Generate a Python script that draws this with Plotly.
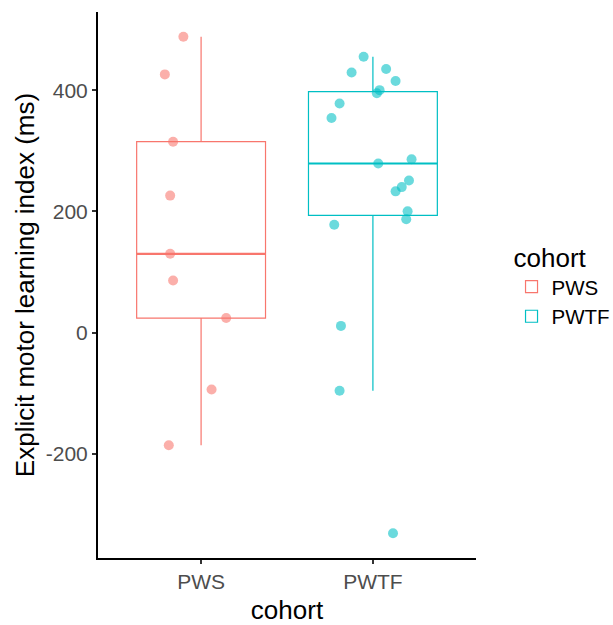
import numpy as np
import plotly.graph_objects as go

# ---- data ----
categories = ["PWS", "PWTF"]
pws_values = [488, 426, 315, 226, 130, 86, 24, -94, -186]
pws_jitter = [-0.103, -0.211, -0.163, -0.180, -0.180, -0.163, 0.146, 0.061, -0.188]
pwtf_values = [455, 429, 435, 415, 400, 395, 378, 354, 286, 279, 251, 240, 233,
               200, 187, 178, 11, -96, -331]
pwtf_jitter = [-0.054, -0.124, 0.077, 0.132, 0.039, 0.023, -0.194, -0.241, 0.225,
               0.031, 0.210, 0.168, 0.132, 0.202, 0.194, -0.225, -0.186, -0.194, 0.117]
y_ticks = [-200, 0, 200, 400]
y_tick_labels = ["-200", "0", "200", "400"]

colors = {"PWS": "#F8766D", "PWTF": "#00BFC4"}
series = {"PWS": (pws_values, pws_jitter), "PWTF": (pwtf_values, pwtf_jitter)}

FONT = "Liberation Sans, Arial, sans-serif"
BOX_W = 0.75

def stats(vals):
    v = np.asarray(vals, dtype=float)
    q1, med, q3 = np.percentile(v, [25, 50, 75])
    iqr = q3 - q1
    lo = v[v >= q1 - 1.5 * iqr].min()
    hi = v[v <= q3 + 1.5 * iqr].max()
    return q1, med, q3, lo, hi

fig = go.Figure()

for i, cat in enumerate(categories, start=1):
    vals, jit = series[cat]
    q1, med, q3, lo, hi = stats(vals)
    fig.add_trace(go.Box(
        x=[i], q1=[q1], median=[med], q3=[q3], lowerfence=[lo], upperfence=[hi],
        name=cat, width=BOX_W, whiskerwidth=0,
        line=dict(color=colors[cat], width=1.2),
        fillcolor="rgba(255,255,255,0)",
        boxpoints=False, showlegend=True, legendgroup=cat,
    ))
    # thicker median line like ggplot
    fig.add_trace(go.Scatter(
        x=[i - BOX_W / 2, i + BOX_W / 2], y=[med, med], mode="lines",
        line=dict(color=colors[cat], width=2.2), showlegend=False,
        hoverinfo="skip", legendgroup=cat,
    ))

for i, cat in enumerate(categories, start=1):
    vals, jit = series[cat]
    fig.add_trace(go.Scatter(
        x=[i + j for j in jit], y=vals, mode="markers",
        marker=dict(color=colors[cat], size=10, opacity=0.58, line=dict(width=0)),
        showlegend=False, legendgroup=cat, name=cat,
    ))

all_vals = pws_values + pwtf_values
vmin, vmax = min(all_vals), max(all_vals)
pad = 0.05 * (vmax - vmin)

fig.update_layout(
    width=613, height=625,
    margin=dict(l=98, r=137, t=12, b=67, autoexpand=False),
    paper_bgcolor="white", plot_bgcolor="white",
    font=dict(family=FONT, color="black"),
    showlegend=True,
    legend=dict(
        title=dict(text="cohort", font=dict(size=26, family=FONT, color="black")),
        font=dict(size=20.5, family=FONT, color="black"),
        x=1.094, xanchor="left", y=0.50, yanchor="middle",
        bgcolor="rgba(0,0,0,0)", tracegroupgap=0, itemwidth=30,
    ),
    xaxis=dict(
        range=[0.4, 2.6], tickmode="array", tickvals=[1, 2], ticktext=categories,
        showgrid=False, zeroline=False, automargin=False,
        showline=True, linecolor="black", linewidth=2,
        ticks="outside", ticklen=4, tickwidth=1.5, tickcolor="#333333",
        tickfont=dict(size=21, color="#4D4D4D", family=FONT),
        title=dict(text="cohort", font=dict(size=26, color="black", family=FONT), standoff=10),
    ),
    yaxis=dict(
        range=[vmin - pad, vmax + pad], tickmode="array", tickvals=y_ticks,
        ticktext=y_tick_labels,
        showgrid=False, zeroline=False, automargin=False,
        showline=True, linecolor="black", linewidth=2,
        ticks="outside", ticklen=4, tickwidth=1.5, tickcolor="#333333",
        tickfont=dict(size=21, color="#4D4D4D", family=FONT),
        title=dict(text="Explicit motor learning index (ms)",
                   font=dict(size=26, color="black", family=FONT), standoff=4),
    ),
)

fig.write_html(
    "out.html",
    config={"displayModeBar": False},
    post_script="document.body.style.margin='0';document.body.style.overflow='hidden';",
)
